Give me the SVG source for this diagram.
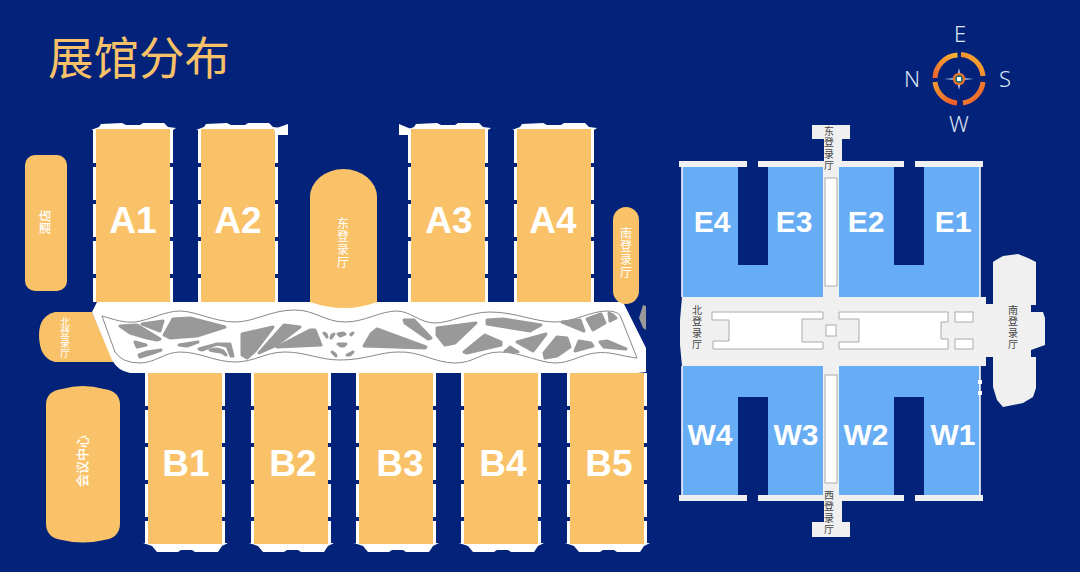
<svg xmlns="http://www.w3.org/2000/svg" width="1080" height="572" viewBox="0 0 1080 572">
<style>
.o{fill:#F9C268}
.w{fill:#fff}
.side{stroke:#fff;stroke-width:3;fill:none;stroke-dasharray:33 4}
.g{fill:#999;stroke:#999;stroke-width:3;stroke-linejoin:round}
.lg{fill:#F0F0F0}
.bl{fill:#66ADF5}
.slot{fill:#fff;stroke:#aaa;stroke-width:1}
.lab{font-family:"Liberation Sans",Arial,sans-serif;font-weight:700;fill:#fff;text-anchor:middle}
.a{font-size:37px}
.e{font-size:30px}
.cj{font-family:"Noto Sans CJK SC",sans-serif;text-anchor:middle}
.v{writing-mode:vertical-rl;fill:#fff}
.d{fill:#444;font-size:10px;letter-spacing:1.5px}
.s{font-size:10px;letter-spacing:.5px}
.m{font-size:12px;letter-spacing:1px}
.dir{font-family:"Noto Sans",sans-serif;font-size:22px;font-weight:300;fill:#DCE6F5;text-anchor:middle}
</style>
<defs>
<linearGradient id="ring" x1="0" y1="0" x2="1" y2="1"><stop offset="0" stop-color="#F49A30"/><stop offset="1" stop-color="#EE5A2A"/></linearGradient>
<linearGradient id="ring2" x1="0" y1="1" x2="1" y2="0"><stop offset="0" stop-color="#F0662B"/><stop offset="1" stop-color="#F9B733"/></linearGradient>
<g id="hallA">
<path class="w" d="M-5,1 L3,-2 L5,-5 L26,-6 L30,-4 L44,-4 L47,-6 L68,-6 L72,-2 L80,-1 L77,1 Z"/>
<path class="side" d="M-1.5,1 V173"/><path class="side" d="M75.5,1 V173"/>
<rect class="o" x="0" y="0" width="74" height="173"/>
</g>
<g id="hallB">
<path class="side" d="M-1.5,0 V171"/><path class="side" d="M75.500,0 V171"/>
<path class="w" d="M-5,170 L80,170 L74,173 L70,179 L47,179 L44,177 L33,177 L30,179 L9,179 L4,173 Z"/>
<rect class="o" x="0" y="0" width="74" height="171"/>
</g>
</defs>
<rect width="1080" height="572" fill="#03237A"/>
<text id="title" x="48" y="75" font-family="'Noto Sans CJK SC',sans-serif" font-size="45.500" fill="#F9C268">展馆分布</text>

<g id="compass" fill="none" stroke-width="5">
<path stroke="url(#ring2)" d="M957.500,55 A24,24 0 0 0 935,78"/>
<path stroke="url(#ring2)" d="M961,54.500 A24,24 0 0 1 983,76"/>
<path stroke="url(#ring)" d="M983,82 A24,24 0 0 1 963,103"/>
<path stroke="url(#ring)" d="M935,82 A24,24 0 0 0 957,103"/>
<polygon fill="#DCE6F5" points="944,79 957,78 959,68 961,78 974,79 961,80 959,90 957,80"/>
<circle cx="959" cy="79" r="5" stroke="#E8742A" stroke-width="2.500" fill="#0E6A78"/>
<rect x="957" y="77" width="4" height="4" fill="#fff"/>
</g>
<g id="compass-labels">
<text class="dir" x="960" y="42">E</text><text class="dir" x="912" y="87">N</text>
<text class="dir" x="1005" y="87">S</text><text class="dir" x="959" y="132">W</text>
</g>

<g id="hotel"><rect class="o" x="25" y="155" width="42" height="136" rx="10"/>
<text class="cj" transform="translate(50,222) rotate(-90)" font-size="12.500" fill="#fff" font-weight="500">酒店</text></g>
<g id="conference"><path class="o" d="M46,405 Q46,391 62,389 Q83,383 104,389 Q120,391 120,405 V523 Q120,538 104,540 Q83,545 62,540 Q46,538 46,523 Z"/>
<text class="cj" transform="translate(87,461) rotate(-90)" font-size="13" fill="#fff" font-weight="500">会议中心</text></g>
<g id="north-hall"><path class="o" d="M92,312 H55 Q39,316 39,335 Q39,358 55,362 H114 Z"/>
<text class="cj v s" x="65" y="338">北登录厅</text></g>

<g id="ribbon">
<path class="w" d="M92,312 L97,302 H623 L646,348 V372 Q620,376 600,373 H130 Q118,371 112,360 Z"/>
<path fill="#fff" stroke="#888" stroke-width="1" d="M102,316 C115,320 125,323 135,322 C150,320 165,311 180,311 C195,311 215,322 235,322 C255,322 270,310 295,310 C315,310 325,322 345,322 C365,322 380,311 397,311 C410,311 420,323 435,323 C450,323 470,312 490,312 C515,312 535,322 555,322 C575,322 590,311 607,311 Q616,311 620,315 L637,358 C620,356 610,351 595,353 C580,355 570,363 555,363 C540,363 520,352 500,352 C480,352 475,363 455,363 C435,363 420,351 398,352 C380,352 365,360 340,360 C320,360 305,352 285,352 C265,352 255,362 235,362 C215,362 200,352 180,352 C165,352 155,363 140,363 Q122,363 115,352 Z"/>
<polygon class="g" points="120,326 137,325 160,339 157,340 147,338 130,333"/>
<polygon class="g" points="142,324 163,321 160,331"/>
<polygon class="g" points="173,319 190,318 225,327 197,336 170,338 164,335"/>
<polygon class="g" points="135,342 146,345 137,347"/>
<polygon class="g" points="139,355 147,352 161,350 153,353 140,357"/>
<polygon class="g" points="179,345 198,342 187,346"/>
<polygon class="g" points="199,349 217,344 230,344 233,356 231,356 227,346 217,344 202,350"/>
<polygon class="g" points="210,350 217,349 223,351 226,355 221,352 214,351"/>
<polygon class="g" points="242,334 273,327 255,351 247,358 242,355"/>
<polygon class="g" points="284,325 300,327 275,346 259,353"/>
<polygon class="g" points="310,330 315,330 321,345 277,347"/>
<polygon class="g" points="324,333 326,334 327,337"/><polygon class="g" points="331,338 332,335 334,334"/>
<polygon class="g" points="338,334 343,333 345,334 340,336"/><polygon class="g" points="351,334 353,333 351,335"/>
<polygon class="g" points="338,344 346,344 344,346 341,346"/><polygon class="g" points="332,352 335,354 336,356"/>
<polygon class="g" points="347,355 353,352 350,355"/>
<polygon class="g" points="377,329 426,347 425,348 364,346 371,334"/>
<polygon class="g" points="404,320 414,320 431,338 428,339 405,323"/>
<polygon class="g" points="437,328 476,323 455,343 445,345 437,335"/>
<polygon class="g" points="464,352 485,335 501,342 501,345 467,353"/>
<polygon class="g" points="487,320 503,319 541,325 530,331 487,324"/>
<polygon class="g" points="507,350 510,347 518,352 505,351"/>
<polygon class="g" points="517,342 546,334 533,351"/>
<polygon class="g" points="544,353 557,337 567,338 570,347 557,356 545,358"/>
<polygon class="g" points="579,341 591,343 593,346 575,351"/>
<polygon class="g" points="600,342 607,341 626,349 604,347"/>
<polygon class="g" points="562,322 580,320 584,331"/>
<polygon class="g" points="587,319 601,314 605,323 593,330"/>
<polygon class="g" points="609,313 613,315 616,318 610,321"/>
</g>
<polygon id="ribbon-end" fill="#999" points="643,305 646,306 646,330 643,328 639,318"/>

<g id="A1"><use href="#hallA" x="96" y="129"/><text class="lab a" x="133" y="233">A1</text></g>
<g id="A2"><use href="#hallA" x="201" y="129"/><path class="w" d="M274,129 L288,124 V135 H276 Z"/><text class="lab a" x="238" y="233">A2</text></g>
<g id="A3"><use href="#hallA" x="411" y="129"/><path class="w" d="M411,129 L399,124 V135 H409 Z"/><text class="lab a" x="449" y="233">A3</text></g>
<g id="A4"><use href="#hallA" x="517" y="129"/><text class="lab a" x="553" y="233">A4</text></g>
<g id="B1"><use href="#hallB" x="148" y="373"/><text class="lab a" x="186" y="476">B1</text></g>
<g id="B2"><use href="#hallB" x="254" y="373"/><text class="lab a" x="293" y="476">B2</text></g>
<g id="B3"><use href="#hallB" x="359" y="373"/><text class="lab a" x="400" y="476">B3</text></g>
<g id="B4"><use href="#hallB" x="464" y="373"/><text class="lab a" x="503" y="476">B4</text></g>
<g id="B5"><use href="#hallB" x="570" y="373"/><text class="lab a" x="609" y="476">B5</text></g>

<g id="east-hall"><path class="o" d="M310,197 A33.500,28 0 0 1 377,197 V302 Q345,314 310,302 Z"/>
<text class="cj v m" x="343" y="243">东登录厅</text></g>
<g id="south-hall"><rect class="o" x="613" y="207" width="26" height="97" rx="13"/>
<text class="cj v m" x="626" y="253">南登录厅</text></g>

<g id="pavilion">
<path class="bl" d="M682,167 H738 V265 H768 V167 H824 V297 H682 Z"/>
<path class="bl" d="M839,167 H894 V265 H924 V167 H980 V297 H839 Z"/>
<path class="bl" d="M682,366 H824 V495 H768 V397 H738 V495 H682 Z"/>
<path class="bl" d="M839,366 H980 V495 H924 V397 H894 V495 H839 Z"/>
<path d="M682,167 V297 M682,366 V495 M980,167 V297 M980,366 V495" stroke="#fff" stroke-width="1.500" fill="none"/>
<path class="lg" d="M812,125 H850 V139 H842 V161 H904 V167 H839 V297 H986 V304 H993 V280 V262 L996,260 L1003,256 L1018,254 L1028,258 L1036,262 V305 H1031 V312 H1043 L1045,318 V345 L1031,350 V357 H1036 V388 L1033,397 L1023,403 L1003,407 L997,400 L993,387 V357 H986 V366 H839 V495 H904 V501 H842 V522 H850 V537 H812 V522 H824 V501 H758 V495 H823 V366 H682 V297 H823 V167 H758 V161 H824 V139 H812 Z"/>
<rect class="lg" x="679" y="161" width="68" height="6"/><rect class="lg" x="915" y="161" width="68" height="6"/>
<rect class="lg" x="679" y="495" width="68" height="6"/><rect class="lg" x="915" y="495" width="68" height="6"/>
<path class="lg" d="M682,297 L680,320 V345 L682,366 Z"/>
<rect class="slot" x="825" y="178" width="12" height="108"/>
<rect class="slot" x="825" y="375" width="12" height="108"/>
<path class="slot" d="M712,312 H823 V319 H802 V342 H823 V349 H713 V341 H729 V320 H712 Z"/>
<rect class="slot" x="826" y="325" width="10" height="11"/>
<path class="slot" d="M839,312 H948 V322 H941 V339 H948 V349 H839 V342 H859 V319 H839 Z"/>
<rect class="slot" x="955" y="312" width="18" height="10"/>
<rect class="slot" x="955" y="339" width="18" height="10"/>
<rect class="w" x="978" y="380" width="4" height="4"/><rect class="w" x="978" y="391" width="4" height="4"/>
<text class="cj v d" x="697" y="328">北登录厅</text>
<text class="cj v d" x="1013" y="328">南登录厅</text>
<text class="cj v d" x="829" y="149">东登录厅</text>
<text class="cj v d" x="829" y="513">西登录厅</text>
</g>
<g id="E4"><text class="lab e" x="712" y="232">E4</text></g>
<g id="E3"><text class="lab e" x="794" y="232">E3</text></g>
<g id="E2"><text class="lab e" x="866" y="232">E2</text></g>
<g id="E1"><text class="lab e" x="953" y="232">E1</text></g>
<g id="W4"><text class="lab e" x="710" y="445">W4</text></g>
<g id="W3"><text class="lab e" x="796" y="445">W3</text></g>
<g id="W2"><text class="lab e" x="866" y="445">W2</text></g>
<g id="W1"><text class="lab e" x="953" y="445">W1</text></g>
</svg>
